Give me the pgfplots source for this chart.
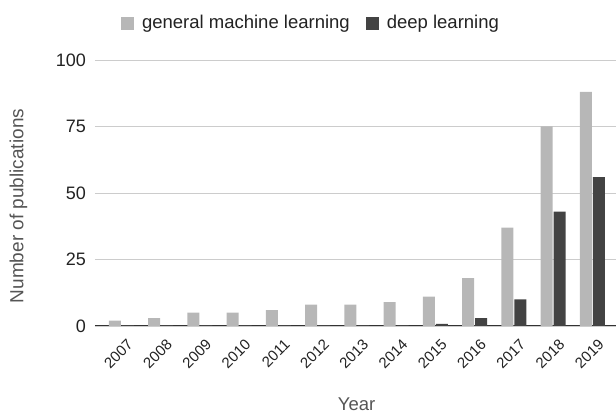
\documentclass[border=0pt]{standalone}
\usepackage{fontspec}
\setmainfont{Liberation Sans}
\usepackage{pgfplots}
\usepackage{pgfplotstable}
\pgfplotsset{compat=1.18}
\definecolor{gmlgray}{HTML}{B7B7B7}
\definecolor{dldark}{HTML}{434343}
\definecolor{gridgray}{HTML}{CCCCCC}
\definecolor{titlegray}{HTML}{555555}
\definecolor{ticktext}{HTML}{222222}

% idx: position of the year on the x axis
\pgfplotstableread{
idx year gml  dl
0   2007 2    0.3
1   2008 3    0.3
2   2009 5    0.3
3   2010 5    0.3
4   2011 6    0.3
5   2012 8    0.3
6   2013 8    0.3
7   2014 9    0.3
8   2015 11   0.8
9   2016 18   3
10  2017 37   10
11  2018 75   43
12  2019 88   56
}\pubs

\begin{document}
\begin{tikzpicture}
\useasboundingbox (-95pt,-88pt) rectangle (521pt,326pt);
\begin{axis}[
    at={(0pt,0pt)}, anchor=south west,
    scale only axis, width=521pt, height=266pt,
    ybar=1pt, bar width=12pt,
    xmin=-0.675, xmax=12.6,
    ymin=0, ymax=100,
    xtick=data,
    xticklabels={2007,2008,2009,2010,2011,2012,2013,2014,2015,2016,2017,2018,2019},
    ytick={0,25,50,75,100},
    /pgf/number format/assume math mode=true,
    axis lines*=left,
    y axis line style={draw=none},
    x axis line style={draw=black!80, line width=1pt},
    tick style={draw=none},
    ymajorgrids, grid style={gridgray, line width=0.8pt},
    xticklabel style={font=\fontsize{15}{17}\selectfont, text=ticktext,
        rotate=45, anchor=north east, inner sep=0pt, yshift=-9pt, xshift=-2pt},
    yticklabel style={font=\fontsize{18}{20}\selectfont, text=ticktext,
        anchor=east, inner sep=0pt, xshift=-9pt},
    xlabel={Year},
    ylabel={Number of publications},
    xlabel style={font=\fontsize{18.5}{22}\selectfont, text=titlegray,
        at={(axis description cs:0.502,-0.318)}, anchor=base},
    ylabel style={font=\fontsize{19}{22}\selectfont, text=titlegray,
        at={(axis description cs:-0.1468,0.451)}, anchor=center},
    legend columns=2,
    legend style={draw=none, fill=none,
        at={(axis description cs:0.4146,1.139)}, anchor=center,
        font=\fontsize{18.5}{22}\selectfont, text=ticktext,
        /tikz/every odd column/.append style={column sep=6pt},
        /tikz/every even column/.append style={column sep=14pt}},
    legend image code/.code={\fill[#1] (0pt,-6.5pt) rectangle (13pt,6.5pt);},
]
\addplot[fill=gmlgray, draw=none] table[x=idx, y=gml] {\pubs};
\addplot[fill=dldark, draw=none] table[x=idx, y=dl] {\pubs};
\legend{general machine learning, deep learning}
\end{axis}
\end{tikzpicture}
\end{document}
